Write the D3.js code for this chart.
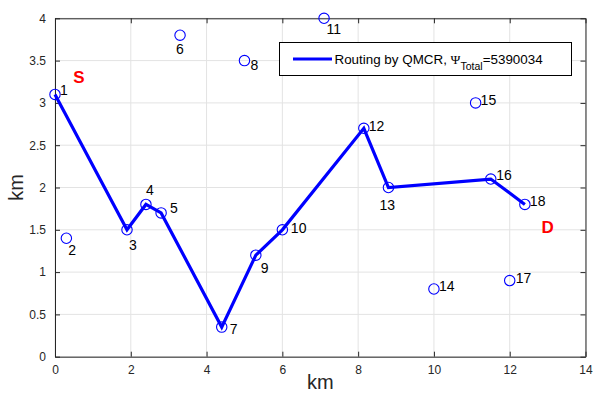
<!DOCTYPE html>
<html>
<head>
<meta charset="utf-8">
<script src="https://cdn.jsdelivr.net/npm/d3@7"></script>
<style>
  body { margin: 0; background: #fff; }
  svg { display: block; font-family: "Liberation Sans", Arial, sans-serif; }
</style>
</head>
<body>
<svg id="chart" width="593" height="394"></svg>
<script>
// Node positions (km)
const nodeIds = [1, 2, 3, 4, 5, 6, 7, 8, 9, 10, 11, 12, 13, 14, 15, 16, 17, 18];
const nodeX = [0, 0.3, 1.9, 2.4, 2.8, 3.3, 4.4, 5.0, 5.3, 6.0, 7.1, 8.15, 8.8, 10.0, 11.1, 11.5, 12.0, 12.4];
const nodeY = [3.1, 1.4, 1.5, 1.8, 1.7, 3.8, 0.35, 3.5, 1.2, 1.5, 4.0, 2.7, 2.0, 0.8, 3.0, 2.1, 0.9, 1.8];

// Route found by QMCR (node ids)
const route = [1, 3, 4, 5, 7, 9, 10, 12, 13, 16, 18];

// Source / destination annotations
const markLabels = ["S", "D"];
const markX = [0.48, 12.84];
const markY = [3.23, 1.46];

const xTicks = [0, 2, 4, 6, 8, 10, 12, 14];
const yTicks = [0, 0.5, 1, 1.5, 2, 2.5, 3, 3.5, 4];
const legendText = "Routing by QMCR, ";
const legendTotal = "=5390034";

const width = 593, height = 394;
const margin = { top: 18.3, right: 7.5, bottom: 37.3, left: 55 };
const axisColor = "#262626";
const blue = "#0000ff";

const svg = d3.select("#chart");

const x = d3.scaleLinear().domain([0, 14]).range([margin.left, width - margin.right]);
const y = d3.scaleLinear().domain([0, 4]).range([height - margin.bottom, margin.top]);

// Grid
svg.append("g").selectAll("line.gx")
  .data(xTicks)
  .enter().append("line")
  .attr("x1", d => x(d)).attr("x2", d => x(d))
  .attr("y1", y(0)).attr("y2", y(4))
  .attr("stroke", "#e3e3e3");
svg.append("g").selectAll("line.gy")
  .data(yTicks)
  .enter().append("line")
  .attr("x1", x(0)).attr("x2", x(14))
  .attr("y1", d => y(d)).attr("y2", d => y(d))
  .attr("stroke", "#e3e3e3");

// Axes (inward ticks on all four sides)
const fmt = d3.format("~g");
function styleAxis(g) {
  g.select(".domain").attr("stroke", axisColor);
  g.selectAll(".tick line").attr("stroke", axisColor);
  g.selectAll(".tick text").attr("fill", axisColor).style("font-size", "12px");
}
svg.append("g")
  .attr("transform", `translate(0,${y(0)})`)
  .call(d3.axisBottom(x).tickValues(xTicks).tickFormat(fmt).tickSizeInner(-5).tickSizeOuter(0).tickPadding(9))
  .call(styleAxis);
svg.append("g")
  .attr("transform", `translate(${x(0)},0)`)
  .call(d3.axisLeft(y).tickValues(yTicks).tickFormat(fmt).tickSizeInner(-5).tickSizeOuter(0).tickPadding(9))
  .call(styleAxis);
svg.append("g")
  .attr("transform", `translate(0,${y(4)})`)
  .call(d3.axisTop(x).tickValues(xTicks).tickFormat("").tickSizeInner(-5).tickSizeOuter(0))
  .call(styleAxis);
svg.append("g")
  .attr("transform", `translate(${x(14)},0)`)
  .call(d3.axisRight(y).tickValues(yTicks).tickFormat("").tickSizeInner(-5).tickSizeOuter(0))
  .call(styleAxis);

// Axis labels
svg.append("text")
  .attr("x", (x(0) + x(14)) / 2).attr("y", 389)
  .attr("text-anchor", "middle")
  .attr("fill", axisColor)
  .style("font-size", "20px")
  .text("km");
svg.append("text")
  .attr("transform", `translate(23,${(y(0) + y(4)) / 2}) rotate(-90)`)
  .attr("text-anchor", "middle")
  .attr("fill", axisColor)
  .style("font-size", "20px")
  .text("km");

// Route line
const nodes = nodeIds.map((id, i) => ({ id, x: nodeX[i], y: nodeY[i] }));
const byId = new Map(nodes.map(n => [n.id, n]));
const line = d3.line().x(d => x(d.x)).y(d => y(d.y));
svg.append("path")
  .datum(route.map(id => byId.get(id)))
  .attr("fill", "none")
  .attr("stroke", blue)
  .attr("stroke-width", 3.2)
  .attr("stroke-linejoin", "miter")
  .attr("d", line);

// Node markers
svg.append("g").selectAll("circle")
  .data(nodes)
  .enter().append("circle")
  .attr("cx", d => x(d.x))
  .attr("cy", d => y(d.y))
  .attr("r", 5.2)
  .attr("fill", "none")
  .attr("stroke", blue)
  .attr("stroke-width", 1.1);

// Node labels: pixel offsets of label (left, baseline) from marker centre
const labelOffset = {
  1: [5, 1], 2: [2, 17], 3: [2, 20], 4: [0, -9], 5: [9, 0], 6: [-4, 19],
  7: [8, 7], 8: [6, 9], 9: [5, 18], 10: [8.5, 3], 11: [2.5, 16], 12: [5, 3],
  13: [-9, 22], 14: [5, 2], 15: [5, 2.5], 16: [5.5, 1], 17: [6, 2], 18: [5, 2]
};
svg.append("g").selectAll("text")
  .data(nodes)
  .enter().append("text")
  .attr("x", d => x(d.x) + labelOffset[d.id][0])
  .attr("y", d => y(d.y) + labelOffset[d.id][1])
  .attr("fill", "#000")
  .style("font-size", "14px")
  .text(d => d.id);

// S / D
svg.append("g").selectAll("text")
  .data(markLabels)
  .enter().append("text")
  .attr("x", (d, i) => x(markX[i]))
  .attr("y", (d, i) => y(markY[i]))
  .attr("fill", "#ff0000")
  .style("font-size", "17px")
  .style("font-weight", "bold")
  .text(d => d);

// Legend
const lg = svg.append("g");
lg.append("rect")
  .attr("x", 279.5).attr("y", 42.5)
  .attr("width", 292).attr("height", 33)
  .attr("fill", "#fff")
  .attr("stroke", "#000")
  .attr("stroke-width", 1);
lg.append("line")
  .attr("x1", 293).attr("x2", 332)
  .attr("y1", 59).attr("y2", 59)
  .attr("stroke", blue)
  .attr("stroke-width", 3.2);
const lt = lg.append("text")
  .attr("x", 334.5).attr("y", 64)
  .attr("fill", "#000")
  .style("font-size", "13.4px");
lt.append("tspan").text(legendText);
lt.append("tspan").style("font-family", "'Liberation Serif', 'DejaVu Serif', serif").text("\u03A8");
lt.append("tspan").attr("dy", 5.5).style("font-size", "10.5px").text("Total");
lt.append("tspan").attr("dy", -5.5).text(legendTotal);
</script>
</body>
</html>
